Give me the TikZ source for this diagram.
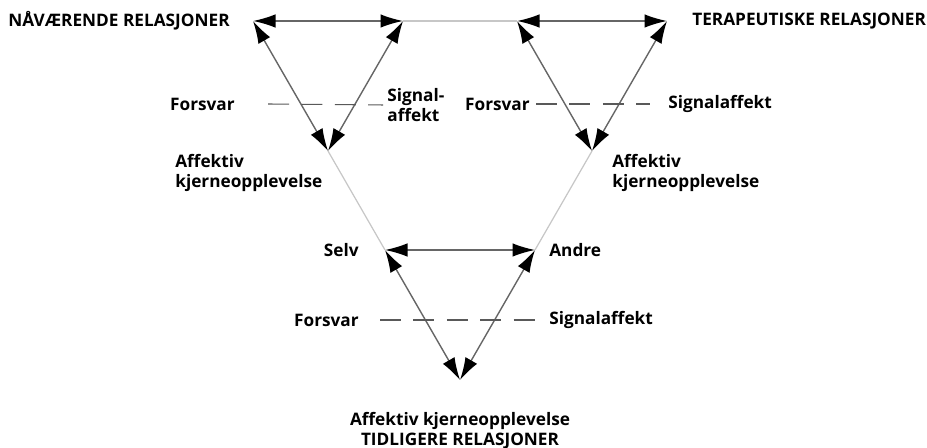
\documentclass[tikz,border=0pt]{standalone}
\usepackage{fontspec}
\setmainfont{Open Sans}
\usetikzlibrary{arrows.meta, positioning}

\tikzset{
  rel/.style={draw=black!60, line width=0.8pt,
    {Latex[length=0.45cm,width=0.27cm,black]}-{Latex[length=0.45cm,width=0.27cm,black]}},
  link/.style={draw=black!22, line width=0.7pt},
  brudd/.style={draw=black!65, line width=0.6pt, dash pattern=on 12pt off 7pt},
  lbl/.style={font=\bfseries\fontsize{9.8}{11.3}\selectfont, inner sep=0pt, align=left},
}

\begin{document}
\begin{tikzpicture}
			\useasboundingbox (0,0) rectangle (18.54,8.96);
			% hjoerner
			\coordinate (navL) at (5.06,8.54);
			\coordinate (navR) at (8.06,8.54);
			\coordinate (navB) at (6.56,5.94);
			\coordinate (terL) at (10.34,8.54);
			\coordinate (terR) at (13.34,8.54);
			\coordinate (terB) at (11.84,5.94);
			\coordinate (tidL) at (7.70,3.96);
			\coordinate (tidR) at (10.70,3.96);
			\coordinate (tidB) at (9.20,1.36);
			% store trekant
			\draw[link] (navR) -- (terL);
			\draw[link] (navB) -- (tidL);
			\draw[link] (terB) -- (tidR);
			% tre smaa trekanter
			\foreach \t in {nav, ter, tid}{
				\draw[rel] (\t L) -- (\t R);
				\draw[rel] (\t L) -- (\t B);
				\draw[rel] (\t R) -- (\t B);
			}
			% tekst
			\node[lbl, left=0.46cm of navL] (nav) {NÅVÆRENDE RELASJONER};
			\node[lbl, right=0.5cm of terR] (ter) {TERAPEUTISKE RELASJONER};
			\node[lbl, anchor=east] (fv1) at (4.70,6.88) {Forsvar};
			\node[lbl, anchor=west] (sa1) at (7.74,6.86) {Signal-\\affekt};
			\node[lbl, anchor=west] (ak1) at (3.50,5.50) {Affektiv\\kjerneopplevelse};
			\node[lbl, anchor=east] (fv2) at (10.60,6.88) {Forsvar};
			\node[lbl, anchor=west] (sa2) at (13.36,6.88) {Signalaffekt};
			\node[lbl, anchor=west] (ak2) at (12.24,5.50) {Affektiv\\kjerneopplevelse};
			\node[lbl, left=0.52cm of tidL] (selv) {Selv};
			\node[lbl, right=0.28cm of tidR] (andre) {Andre};
			\node[lbl, anchor=east] (fv3) at (7.18,2.56) {Forsvar};
			\node[lbl, anchor=west] (sa3) at (10.98,2.56) {Signalaffekt};
			\node[lbl, align=center] (tid) at (9.20,0.34) {Affektiv kjerneopplevelse\\TIDLIGERE RELASJONER};
			% forsvar -- signalaffekt
			\draw[brudd] ([xshift=0.66cm]fv1.east) -- ([xshift=-0.08cm]sa1.west);
			\draw[brudd] ([xshift=0.12cm]fv2.east) -- ([xshift=-0.36cm]sa2.west);
			\draw[brudd] ([xshift=0.42cm]fv3.east) -- ([xshift=-0.22cm]sa3.west);
\end{tikzpicture}
\end{document}
